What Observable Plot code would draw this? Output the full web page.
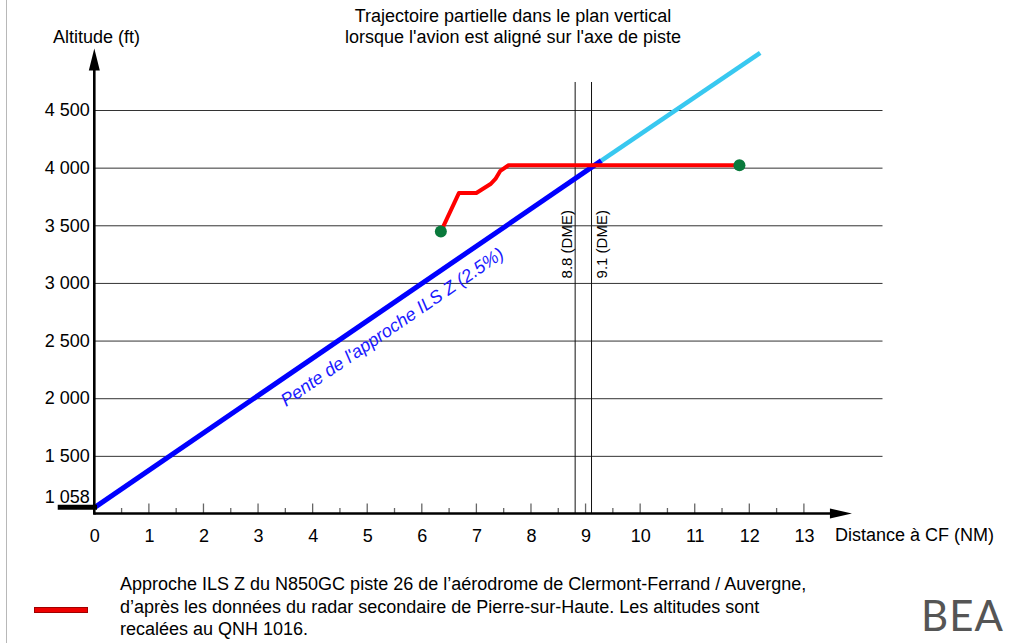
<!DOCTYPE html>
<html><head><meta charset="utf-8">
<script src="https://cdn.jsdelivr.net/npm/d3@7"></script>
<script src="https://cdn.jsdelivr.net/npm/@observablehq/plot@0.6"></script>
<style>
html,body{margin:0;padding:0;background:#fff;}
#wrap{position:relative;width:1032px;height:643px;overflow:hidden;font-family:"Liberation Sans",Arial,sans-serif;color:#000;background:#fff;}
.abs{position:absolute;white-space:nowrap;font-size:18px;line-height:21px;}
</style></head><body><div id="wrap"></div>
<script>
// ---------- data ----------
const xTickValues = [0,1,2,3,4,5,6,7,8,9,10,11,12,13];
const xMinorValues = [0.5,1.5,2.5,3.5,4.5,5.5,6.5,7.5,8.5,9.5,10.5,11.5,12.5];
const yTickValues = [1500,2000,2500,3000,3500,4000,4500];
const yTickLabels = ["1 500","2 000","2 500","3 000","3 500","4 000","4 500"];
const thresholdAlt = 1058;
const thresholdLabel = "1 058";
const ilsDist = [0, 9.28];
const ilsAlt = [1058, 4065];
const ilsExtDist = [9.28, 12.19];
const ilsExtAlt = [4065, 5000];
const radarDist = [6.34, 6.67, 6.99, 7.25, 7.34, 7.43, 7.58, 11.81];
const radarAlt  = [3450, 3784, 3784, 3862, 3906, 3977, 4025, 4025];
const dmeDist = [8.8, 9.1];
const dmeLabels = ["8.8 (DME)", "9.1 (DME)"];
const ilsLabel = "Pente de l'approche ILS Z (2.5%)";
const titleLines = ["Trajectoire partielle dans le plan vertical", "lorsque l'avion est aligné sur l'axe de piste"];
const yAxisTitle = "Altitude (ft)";
const xAxisTitle = "Distance à CF (NM)";
const legendLines = ["Approche ILS Z du N850GC piste 26 de l’aérodrome de Clermont-Ferrand / Auvergne,",
  "d’après les données du radar secondaire de Pierre-sur-Haute. Les altitudes sont",
  "recalées au QNH 1016."];

// ---------- layout constants ----------
const W = 1032, H = 643;
const xDomain = [0, 13], yDomain = [1000, 4500];
const gridEnd = 14.44, dmeTop = 4743, runwayStart = -0.67;
const xAxisEnd = 13.88, yAxisEnd = 5033;
const ilsLabelDist = 5.25;

const toRows = (xs, ys) => xs.map((d, i) => ({dist: d, alt: ys[i]}));
const ils = toRows(ilsDist, ilsAlt);
const ilsExt = toRows(ilsExtDist, ilsExtAlt);
const radar = toRows(radarDist, radarAlt);
const radarEnds = [radar[0], radar[radar.length - 1]];
const dme = dmeDist.map((d, i) => ({dist: d, label: dmeLabels[i]}));
const ilsInterp = d3.scaleLinear(ilsDist, ilsAlt);

function axisArt(index, scales) {
  const {x, y} = scales;
  const g = d3.create("svg:g");
  const ox = x(0), oy = y(yDomain[0]);
  for (const t of xTickValues) g.append("line").attr("x1", x(t)).attr("x2", x(t)).attr("y1", oy).attr("y2", oy - 10).attr("stroke", "#666").attr("stroke-width", 1.3);
  for (const t of xMinorValues) g.append("line").attr("x1", x(t)).attr("x2", x(t)).attr("y1", oy).attr("y2", oy - 5.5).attr("stroke", "#666").attr("stroke-width", 1.3);
  const xt = x(xAxisEnd), yt = y(yAxisEnd);
  g.append("line").attr("x1", ox).attr("x2", xt - 20).attr("y1", oy).attr("y2", oy).attr("stroke", "#000").attr("stroke-width", 2.6);
  g.append("path").attr("d", `M${xt},${oy}L${xt - 22},${oy - 5}L${xt - 22},${oy + 5}Z`).attr("fill", "#000");
  g.append("line").attr("x1", ox).attr("x2", ox).attr("y1", oy + 1.3).attr("y2", yt + 20).attr("stroke", "#000").attr("stroke-width", 2.6);
  g.append("path").attr("d", `M${ox},${yt}L${ox - 5.5},${yt + 22}L${ox + 5.5},${yt + 22}Z`).attr("fill", "#000");
  return g.node();
}

const chart = Plot.plot({
  width: W, height: H,
  marginLeft: 94.3, marginRight: W - 803.9, marginTop: 110, marginBottom: H - 513.5,
  x: {domain: xDomain}, y: {domain: yDomain},
  style: {fontFamily: '"Liberation Sans", Arial, sans-serif', fontSize: "18px", background: "transparent", overflow: "visible"},
  marks: [
    Plot.ruleY(yTickValues, {x1: 0, x2: gridEnd, stroke: "#333", strokeWidth: 1}),
    Plot.ruleX(dmeDist, {y1: yDomain[0], y2: dmeTop, stroke: "#111", strokeWidth: 1}),
    Plot.text(dme.slice(0, 1), {x: "dist", y: 3000, text: "label", rotate: -90, textAnchor: "start", lineAnchor: "bottom", dx: -3, dy: -5, fontSize: 15}),
    Plot.text(dme.slice(1), {x: "dist", y: 3000, text: "label", rotate: -90, textAnchor: "start", lineAnchor: "top", dx: 5, dy: -5, fontSize: 15}),
    Plot.line(ilsExt, {x: "dist", y: "alt", stroke: "#38c8f0", strokeWidth: 4.5, strokeLinecap: "butt"}),
    Plot.line(ils, {x: "dist", y: "alt", stroke: "#0000ff", strokeWidth: 5, strokeLinecap: "butt"}),
    Plot.text([ilsLabel], {x: ilsLabelDist, y: ilsInterp(ilsLabelDist), text: d => d, rotate: -34.4, fill: "#1a1aff", fontStyle: "italic", fontSize: 18, dx: 11, dy: 16}),
    Plot.line(radar, {x: "dist", y: "alt", stroke: "#ff0000", strokeWidth: 4}),
    Plot.dot(radarEnds, {x: "dist", y: "alt", r: 6, fill: "#0a7a3c"}),
    Plot.ruleY([thresholdAlt], {x1: runwayStart, x2: 0.05, stroke: "#000", strokeWidth: 5}),
    Plot.text([thresholdLabel], {x: 0, y: thresholdAlt, text: d => d, textAnchor: "end", dx: -5, dy: -10, fontSize: 18}),
    Plot.axisY({ticks: yTickValues, tickFormat: d => yTickLabels[yTickValues.indexOf(d)], tickSize: 0, tickPadding: 5, label: null, fontSize: 18}),
    Plot.axisX({ticks: xTickValues, tickFormat: d => String(d), tickSize: 0, tickPadding: 15, label: null, fontSize: 18}),
    axisArt
  ]
});

const wrap = document.getElementById("wrap");
wrap.appendChild(chart);
chart.style.position = "absolute"; chart.style.left = "0"; chart.style.top = "0";

function addDiv(text, css) {
  const d = document.createElement("div");
  d.className = "abs";
  d.textContent = text;
  Object.assign(d.style, css);
  wrap.appendChild(d);
  return d;
}
// left page border
const border = document.createElement("div");
Object.assign(border.style, {position: "absolute", left: "6px", top: "0", width: "1px", height: H + "px", background: "#b8b8b8"});
wrap.appendChild(border);

titleLines.forEach((t, i) => addDiv(t, {left: "0", width: "1026px", textAlign: "center", top: (5.5 + i * 21) + "px"}));
addDiv(yAxisTitle, {left: "53px", top: "27px"});
addDiv(xAxisTitle, {left: "835px", top: "524.5px"});
legendLines.forEach((t, i) => addDiv(t, {left: "120px", top: (574 + i * 22.5) + "px"}));
const sw = document.createElement("div");
Object.assign(sw.style, {position: "absolute", left: "34px", top: "607px", width: "54px", height: "6px", background: "#ee0000", border: "1px solid #a00000", boxSizing: "border-box"});
wrap.appendChild(sw);
addDiv("BEA", {left: "921px", top: "594px", fontSize: "42px", lineHeight: "42px", fontFamily: "Lato, Roboto, sans-serif", fontWeight: "400", color: "#555", letterSpacing: "1px"});
</script></body></html>
